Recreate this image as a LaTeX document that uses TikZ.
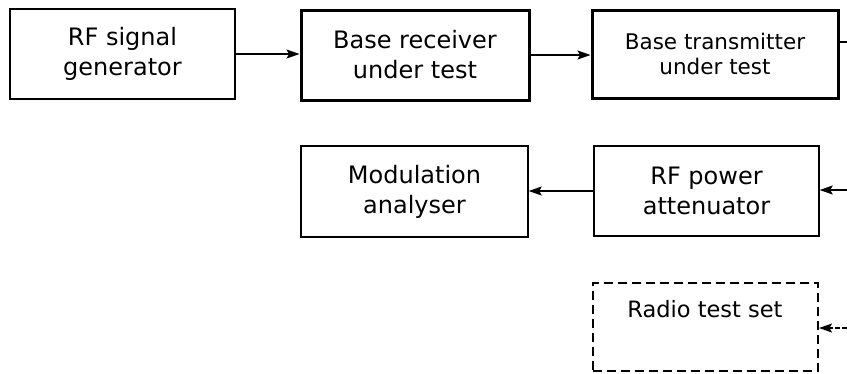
\documentclass[tikz,border=0pt]{standalone}
\usepackage{fontspec}
\setmainfont{DejaVu Sans}
\usetikzlibrary{arrows.meta}
\tikzset{
  blk/.style={draw, line width=1.4bp, align=center, inner sep=0pt,
    font=\fontsize{24bp}{30bp}\selectfont},
  thickblk/.style={blk, line width=3bp},
  dashbox/.style={draw, line width=2bp, dash pattern=on 9bp off 5bp, inner sep=0pt},
  conn/.style={line width=1.5bp, -{Stealth[length=13bp,width=9bp,inset=2.5bp]}},
  plain/.style={line width=1.5bp}
}
\begin{document}
\begin{tikzpicture}[x=1bp,y=-1bp]
\useasboundingbox (0,0) rectangle (847,373);
\node[blk, minimum width=225bp, minimum height=90bp] (gen) at (122.5,54) {RF signal\\generator};
\node[thickblk, minimum width=228bp, minimum height=90bp] (rx) at (415,55) {Base receiver\\under test};
\node[thickblk, minimum width=246bp, minimum height=88bp,
  font=\fontsize{21.5bp}{25bp}\selectfont] (tx) at (715,54) {Base transmitter\\under test};
\node[blk, minimum width=227bp, minimum height=91bp] (mod) at (414.5,191.5) {Modulation\\analyser};
\node[blk, minimum width=225bp, minimum height=90bp] (att) at (706.5,191) {RF power\\attenuator};
\node[dashbox, minimum width=225bp, minimum height=88bp] (rts) at (705.5,327) {};
\node[font=\fontsize{22.5bp}{26bp}\selectfont, inner sep=0pt] (rtslabel) at (705,309.5) {Radio test set};
\coordinate (txout) at (847,42);
\coordinate (attin) at (847,190);
\coordinate (rtsin) at (847,328);
\draw[conn] (gen.east) -- (gen.east -| rx.west);
\draw[conn] (rx.east) -- (rx.east -| tx.west);
\draw[plain] (txout -| tx.east) -- (txout);
\draw[conn] (att.west) -- (att.west -| mod.east);
\draw[conn] (attin) -- (attin -| att.east);
\draw[conn, line width=1.2bp, dash pattern=on 5bp off 2bp] (rtsin) -- (rtsin -| rts.east);
\end{tikzpicture}
\end{document}
